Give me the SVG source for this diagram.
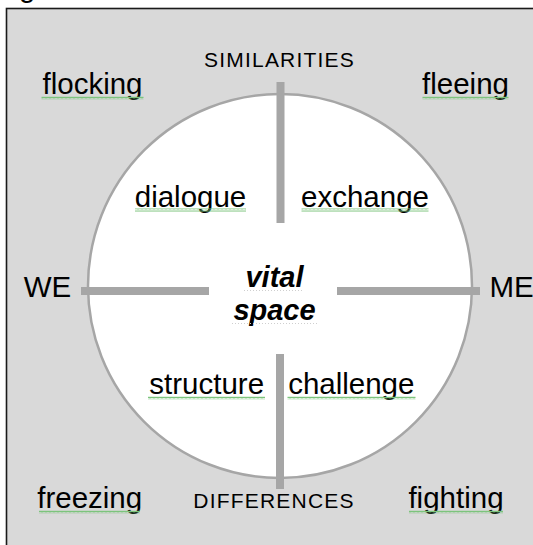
<svg xmlns="http://www.w3.org/2000/svg" width="533" height="545" viewBox="0 0 533 545">
  <style>
    .lbl { font-family: "Liberation Sans", Arial, sans-serif; font-size: 29.5px; fill: #000; text-anchor: middle; }
    .axis { font-family: "Liberation Sans", Arial, sans-serif; font-size: 21px; fill: #000; text-anchor: middle; letter-spacing: 1.2px; }
    .core { font-family: "Liberation Sans", Arial, sans-serif; font-size: 29px; font-weight: bold; font-style: italic; fill: #000; text-anchor: middle; }
    .bar { stroke: #a6a6a6; stroke-width: 8; fill: none; }
    .squiggle { fill: none; stroke: #7cc47c; stroke-width: 1; }
    .dots { stroke: #cfcfcf; stroke-width: 1; stroke-dasharray: 1 2; }
  </style>
  <defs>
    <pattern id="wave" width="4" height="3" patternUnits="userSpaceOnUse">
      <path d="M0 2.5 L1 0.5 L2 2.5 L3 0.5 L4 2.5" class="squiggle"/>
    </pattern>
  </defs>

  <rect width="533" height="545" fill="#ffffff"/>
  <text x="19" y="-3.5" class="lbl" style="text-anchor:start">g</text>

  <!-- background panel -->
  <rect x="6.5" y="8.5" width="540" height="560" fill="#d9d9d9" stroke="#1a1a1a" stroke-width="1.6"/>

  <!-- vital space circle -->
  <g id="circle">
    <circle cx="280" cy="286" r="192" fill="#ffffff" stroke="#a6a6a6" stroke-width="2.5"/>
  </g>

  <!-- axes -->
  <g id="connectors">
    <line class="bar" x1="280.5" y1="82" x2="280.5" y2="223"/>
    <line class="bar" x1="280" y1="354" x2="280" y2="489"/>
    <line class="bar" x1="81" y1="291" x2="209" y2="291"/>
    <line class="bar" x1="337" y1="291" x2="480" y2="291"/>
  </g>

  <g id="similarities"><text class="axis" x="279.5" y="66.7">SIMILARITIES</text></g>
  <g id="differences"><text class="axis" x="274" y="508.3">DIFFERENCES</text></g>
  <g id="we"><text class="lbl" x="47.5" y="296.7">WE</text></g>
  <g id="me"><text class="lbl" x="489.5" y="296.7" style="text-anchor:start">ME</text></g>

  <g id="vital-space">
    <text class="core" x="274.5" y="286.7">vital</text>
    <text class="core" x="274.5" y="320">space</text>
    <line class="dots" x1="244" y1="290.5" x2="304" y2="290.5"/>
    <line class="dots" x1="232" y1="323.5" x2="317" y2="323.5"/>
  </g>

  <g id="flocking">
    <text class="lbl" x="92.5" y="94.3">flocking</text>
    <rect x="41.5" y="96.5" width="102" height="3" fill="url(#wave)"/>
  </g>
  <g id="fleeing">
    <text class="lbl" x="465.5" y="94.3">fleeing</text>
    <rect x="422.5" y="96.5" width="86" height="3" fill="url(#wave)"/>
  </g>
  <g id="freezing">
    <text class="lbl" x="89.7" y="508.3">freezing</text>
    <rect x="39" y="510.5" width="101" height="3" fill="url(#wave)"/>
  </g>
  <g id="fighting">
    <text class="lbl" x="456" y="508.3">fighting</text>
    <rect x="409" y="510.5" width="94" height="3" fill="url(#wave)"/>
  </g>
  <g id="dialogue">
    <text class="lbl" x="190.5" y="206.7">dialogue</text>
    <rect x="135" y="208.5" width="111" height="3" fill="url(#wave)"/>
  </g>
  <g id="exchange">
    <text class="lbl" x="365" y="206.7">exchange</text>
    <rect x="301.5" y="208.5" width="127" height="3" fill="url(#wave)"/>
  </g>
  <g id="structure">
    <text class="lbl" x="206.7" y="394.3">structure</text>
    <rect x="148" y="396.5" width="117" height="3" fill="url(#wave)"/>
  </g>
  <g id="challenge">
    <text class="lbl" x="351.3" y="394.3">challenge</text>
    <rect x="287.5" y="396.5" width="128" height="3" fill="url(#wave)"/>
  </g>
</svg>
